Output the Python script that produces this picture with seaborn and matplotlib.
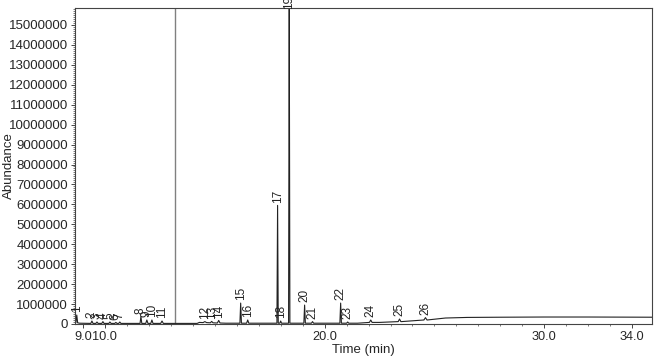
import numpy as np
import pandas as pd
import matplotlib
matplotlib.use("Agg")
import matplotlib.pyplot as plt
import seaborn as sns
from matplotlib.ticker import MultipleLocator, FixedLocator, FuncFormatter

# ---- data ----
peak_labels = [str(i) for i in range(1, 27)]
peak_rt = [8.72, 9.41, 9.64, 9.91, 10.23, 10.50, 10.68, 11.64, 11.91, 12.14,
           12.60, 14.55, 14.86, 15.18, 16.18, 16.50, 17.86, 18.00, 18.39, 19.09,
           19.45, 20.73, 21.05, 22.10, 23.41, 24.59]
peak_height = [450000, 150000, 100000, 120000, 100000, 80000, 100000, 380000, 200000, 200000,
               150000, 120000, 130000, 180000, 1050000, 200000, 5950000, 150000, 16500000, 950000,
               120000, 1050000, 100000, 200000, 250000, 320000]
peak_base = [60000, 30000, 30000, 30000, 30000, 30000, 30000, 30000, 30000, 30000,
             30000, 70000, 60000, 50000, 40000, 40000, 40000, 40000, 40000, 40000,
             40000, 40000, 40000, 80000, 120000, 200000]
peak_halfwidth = [0.04, 0.05, 0.05, 0.05, 0.05, 0.05, 0.05, 0.04, 0.05, 0.05,
                  0.06, 0.08, 0.06, 0.06, 0.035, 0.05, 0.03, 0.04, 0.03, 0.035,
                  0.05, 0.035, 0.05, 0.06, 0.06, 0.07]
baseline_time = [8.60, 8.64, 8.85, 11.0, 13.0, 14.2, 14.3, 15.5, 21.5, 22.5, 23.5, 24.5,
                 25.5, 26.5, 28.0, 30.0, 32.0, 34.9]
baseline_value = [250000, 250000, 40000, 30000, 30000, 30000, 80000, 40000, 40000, 80000,
                  120000, 200000, 300000, 330000, 340000, 350000, 350000, 340000]
x_ticks = [9.0, 10.0, 20.0, 30.0, 34.0]
marker_rt = 13.18
y_max = 15850000

# ---- build trace ----
rows = list(zip(baseline_time, baseline_value))
for rt, h, b, w in zip(peak_rt, peak_height, peak_base, peak_halfwidth):
    rows += [(rt - w, b), (rt, h), (rt + w, b)]
df = pd.DataFrame(rows, columns=["Time (min)", "Abundance"]).sort_values("Time (min)")

sns.set_theme(style="ticks")
plt.rcParams["font.family"] = ["Liberation Sans", "DejaVu Sans"]

fig = plt.figure(figsize=(6.54, 3.58), dpi=100)
ax = fig.add_axes([75 / 654, 1 - 324 / 358, (652 - 75) / 654, (324 - 8) / 358])

ax.axvline(marker_rt, color="#808080", lw=1.0, zorder=1)
sns.lineplot(data=df, x="Time (min)", y="Abundance", sort=False, estimator=None,
             color="#222222", lw=0.8, ax=ax, zorder=2)

ax.set_xlim(8.64, 34.9)
ax.set_ylim(0, y_max)

for lab, rt, h in zip(peak_labels, peak_rt, peak_height):
    clipped = h > y_max
    ax.annotate(lab, xy=(rt, min(h, y_max)), xytext=(0, -1 if clipped else 2),
                textcoords="offset points", rotation=90, ha="center", va="bottom",
                fontsize=8.5, color="#222222", annotation_clip=False)

ax.xaxis.set_major_locator(FixedLocator(x_ticks))
ax.xaxis.set_major_formatter(FuncFormatter(lambda v, p: f"{v:.1f}"))
ax.xaxis.set_minor_locator(MultipleLocator(1.0))
ax.yaxis.set_major_locator(MultipleLocator(1000000))
ax.yaxis.set_major_formatter(FuncFormatter(lambda v, p: f"{int(round(v))}"))
ax.yaxis.set_minor_locator(MultipleLocator(100000))

ax.tick_params(axis="both", which="major", length=3, width=0.7, labelsize=9.5,
               color="#444444", pad=2)
ax.tick_params(axis="x", which="major", labelsize=9.2)
ax.tick_params(axis="both", which="minor", length=1.5, width=0.5, color="#444444")
for s in ax.spines.values():
    s.set_visible(True)
    s.set_color("#444444")
    s.set_linewidth(0.8)

ax.set_xlabel("Time (min)", fontsize=9.5, labelpad=1)
ax.set_ylabel("Abundance", fontsize=9.5)
ax.yaxis.set_label_coords((15 - 75) / 577, 0.5)

fig.savefig("out.png", dpi=100)
